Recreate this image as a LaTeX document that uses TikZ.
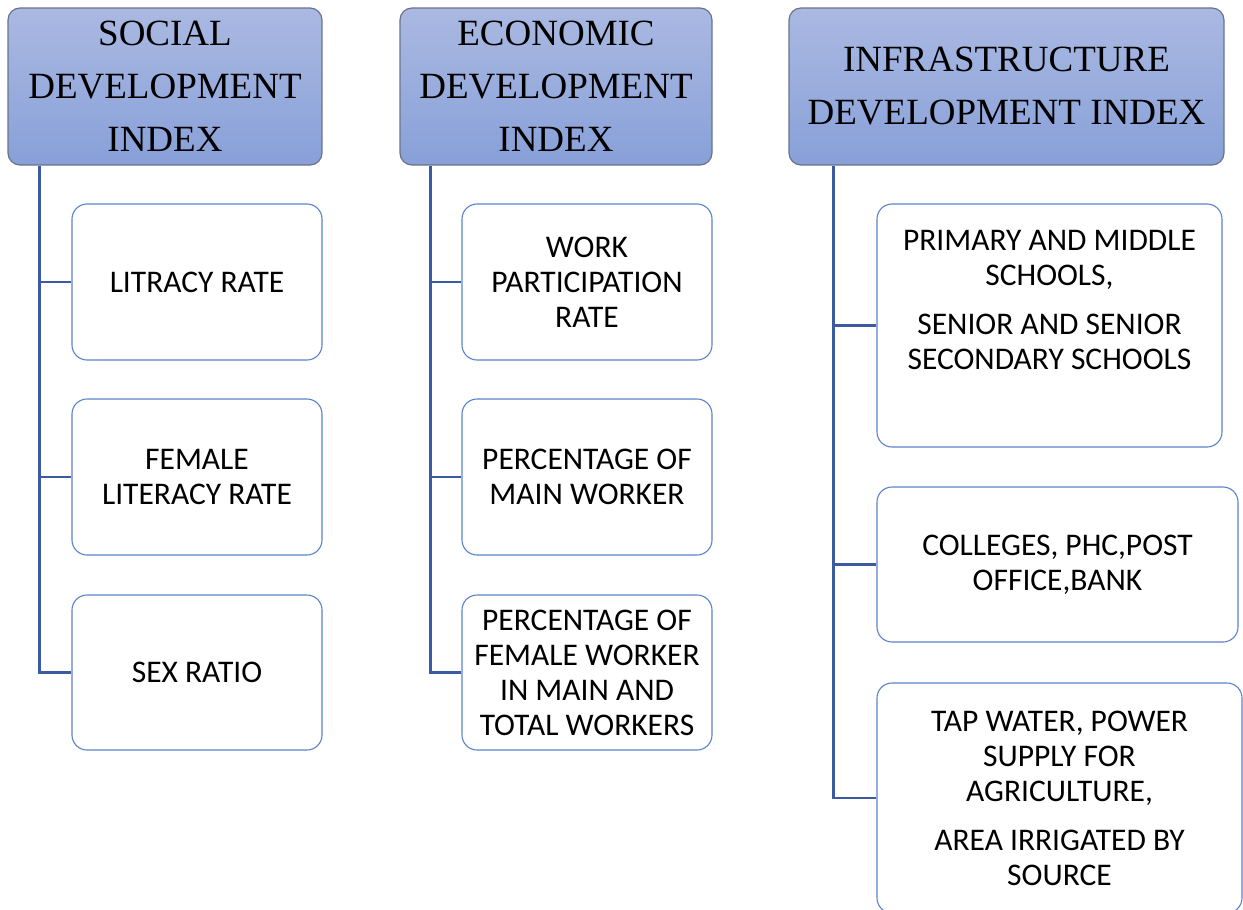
\documentclass[tikz,border=0pt]{standalone}
\usepackage{fontspec}
\setmainfont{Liberation Serif}
\newfontfamily\bodyfont{Carlito}
\definecolor{hdrtop}{RGB}{170,185,226}
\definecolor{hdrbot}{RGB}{136,160,216}
\definecolor{hdredge}{RGB}{105,115,140}
\definecolor{linkcol}{RGB}{60,90,160}
\definecolor{boxedge}{RGB}{90,130,205}
\begin{document}
\begin{tikzpicture}[x=1pt,y=-1pt,
  header/.style={draw=hdredge, line width=1.2pt, rounded corners=12pt,
    top color=hdrtop, bottom color=hdrbot, inner sep=0pt, align=center,
    font=\fontsize{37}{53}\selectfont},
  item/.style={draw=boxedge, line width=1.1pt, rounded corners=15pt,
    fill=white, inner sep=0pt, align=center,
    font=\bodyfont\fontsize{31.5}{35}\selectfont},
  itext/.style={inner sep=0pt, align=center,
    font=\bodyfont\fontsize{31.5}{35}\selectfont},
  link/.style={draw=linkcol, line width=2.5pt}]

\useasboundingbox (0,0) rectangle (1243,910);
\clip (0,0) rectangle (1243,910);

% headers
\node[header, minimum width=314pt, minimum height=157pt] (sdi) at (165,86.5)
  {SOCIAL\\DEVELOPMENT\\INDEX};
\node[header, minimum width=312pt, minimum height=157pt] (edi) at (556,86.5)
  {ECONOMIC\\DEVELOPMENT\\INDEX};
\node[header, minimum width=435pt, minimum height=157pt] (idi) at (1006.5,86.5)
  {INFRASTRUCTURE\\DEVELOPMENT INDEX};

% social indicators
\node[item, minimum width=250pt, minimum height=156pt] (s1) at (197,282) {LITRACY RATE};
\node[item, minimum width=250pt, minimum height=156pt] (s2) at (197,477) {FEMALE\\LITERACY RATE};
\node[item, minimum width=250pt, minimum height=155pt] (s3) at (197,672.5) {SEX RATIO};

% economic indicators
\node[item, minimum width=250pt, minimum height=156pt] (e1) at (587,282) {WORK\\PARTICIPATION\\RATE};
\node[item, minimum width=250pt, minimum height=156pt] (e2) at (587,477) {PERCENTAGE OF\\MAIN WORKER};
\node[item, minimum width=250pt, minimum height=155pt] (e3) at (587,672.5)
  {PERCENTAGE OF\\FEMALE WORKER\\IN MAIN AND\\TOTAL WORKERS};

% infrastructure indicators
\node[item, minimum width=345pt, minimum height=243pt] (i1) at (1049.5,325.5) {};
\node[itext] (i1t) at (1049.5,300)
  {PRIMARY AND MIDDLE\\SCHOOLS,\\[14pt]SENIOR AND SENIOR\\SECONDARY SCHOOLS};
\node[item, minimum width=361pt, minimum height=155pt] (i2) at (1057.5,564.5)
  {COLLEGES, PHC,POST\\OFFICE,BANK};
\node[item, minimum width=365pt, minimum height=230pt] (i3) at (1059.5,798)
  {TAP WATER, POWER\\SUPPLY FOR\\AGRICULTURE,\\[14pt]AREA IRRIGATED BY\\SOURCE};

% tree connectors
\draw[link] (sdi.south west) ++(32,0) |- (s3.west);
\draw[link] (s1.west) -- ++(-32,0);
\draw[link] (s2.west) -- ++(-32,0);

\draw[link] (edi.south west) ++(31,0) |- (e3.west);
\draw[link] (e1.west) -- ++(-31,0);
\draw[link] (e2.west) -- ++(-31,0);

\draw[link] (idi.south west) ++(45,0) |- (i3.west);
\draw[link] (i1.west) -- ++(-43,0);
\draw[link] (i2.west) -- ++(-43,0);
\end{tikzpicture}
\end{document}
